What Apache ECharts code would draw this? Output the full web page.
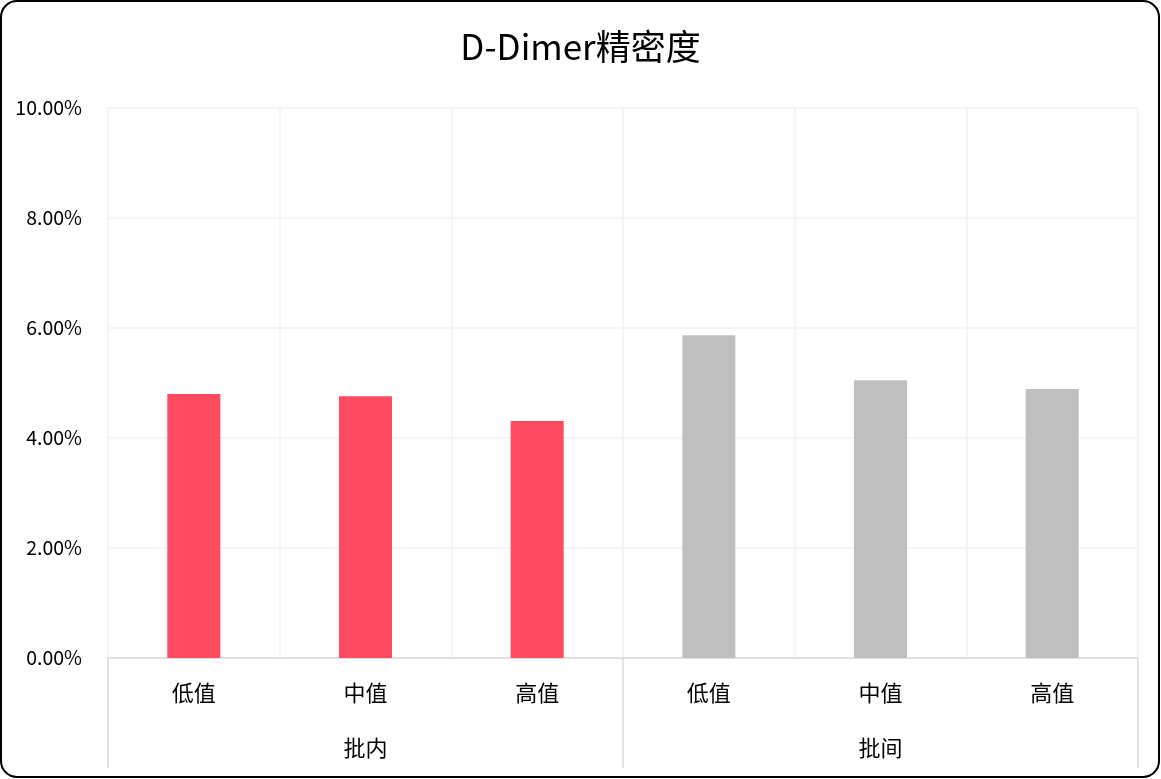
<!DOCTYPE html>
<html>
<head>
<meta charset="utf-8">
<script src="https://cdn.jsdelivr.net/npm/echarts@6/dist/echarts.min.js"></script>
<style>
html,body{margin:0;padding:0;background:#fff;}
#chart{width:1161px;height:779px;}
</style>
</head>
<body>
<div id="chart"></div>
<script>
var titleText = 'D-Dimer精密度';
var levels = ['低值', '中值', '高值', '低值', '中值', '高值'];
var groups = ['批内', '批间'];
var intraValues = [4.80, 4.76, 4.31];
var interValues = [5.87, 5.05, 4.89];
var yTicks = [0, 2, 4, 6, 8, 10];

var font = '"Noto Sans CJK SC", "Noto Sans", sans-serif';
var chart = echarts.init(document.getElementById('chart'));
var blank = ['-', '-', '-'];
chart.setOption({
  animation: false,
  backgroundColor: '#fff',
  textStyle: { fontFamily: font },
  title: {
    text: titleText,
    left: 'center',
    top: 29,
    padding: 0,
    textStyle: { fontSize: 35, fontWeight: 'normal', color: '#000', fontFamily: font }
  },
  graphic: [{
    type: 'rect',
    shape: { x: 1, y: 1, width: 1158, height: 776, r: 16 },
    style: { fill: 'none', stroke: '#000', lineWidth: 2 },
    silent: true,
    z: 100
  }],
  grid: { left: 108, right: 23, top: 108, bottom: 121 },
  xAxis: [{
    type: 'category',
    data: levels,
    position: 'bottom',
    axisLine: { lineStyle: { color: '#d9d9d9', width: 1.5 } },
    axisTick: { show: false },
    splitLine: { show: true, interval: 0, lineStyle: { color: '#f2f2f2', width: 1.5 } },
    axisLabel: { interval: 0, margin: 24, fontSize: 22, color: '#000', fontFamily: font }
  }, {
    type: 'category',
    data: groups,
    position: 'bottom',
    axisLine: { show: false },
    axisTick: { show: true, interval: 0, length: 110, lineStyle: { color: '#d9d9d9', width: 1.5 } },
    axisLabel: { interval: 0, margin: 79, fontSize: 22, color: '#000', fontFamily: font }
  }],
  yAxis: {
    type: 'value',
    min: yTicks[0],
    max: yTicks[yTicks.length - 1],
    interval: 2,
    axisLine: { show: false },
    axisTick: { show: false },
    splitLine: { lineStyle: { color: '#f2f2f2', width: 1.5 } },
    axisLabel: {
      margin: 26, fontSize: 19.5, color: '#000', fontFamily: font,
      formatter: function (v) { return v.toFixed(2) + '%'; }
    }
  },
  series: [{
    name: groups[0],
    type: 'bar',
    stack: 'all',
    barWidth: 53,
    data: intraValues.concat(blank),
    itemStyle: { color: '#ff4a5f' }
  }, {
    name: groups[1],
    type: 'bar',
    stack: 'all',
    barWidth: 53,
    data: blank.concat(interValues),
    itemStyle: { color: '#bfbfbf' }
  }]
});
</script>
</body>
</html>
